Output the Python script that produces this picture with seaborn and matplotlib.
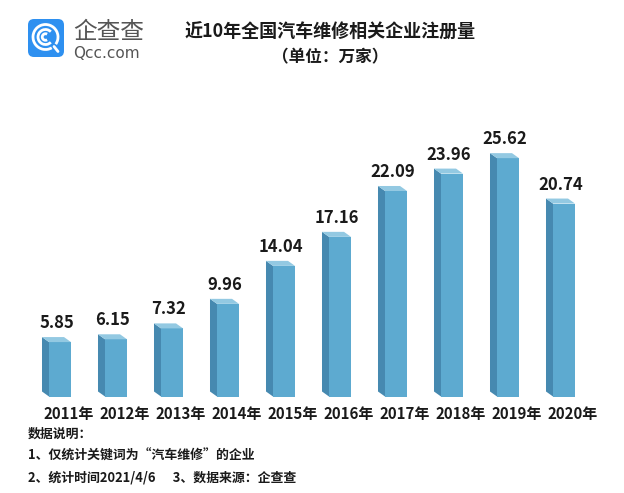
import matplotlib
matplotlib.use('Agg')
import matplotlib.pyplot as plt
import matplotlib.transforms as mtransforms
from matplotlib.patches import Polygon, FancyBboxPatch, Arc
import seaborn as sns
import pandas as pd

# ---- data ----
years = ['2011年', '2012年', '2013年', '2014年', '2015年',
         '2016年', '2017年', '2018年', '2019年', '2020年']
values = [5.85, 6.15, 7.32, 9.96, 14.04, 17.16, 22.09, 23.96, 25.62, 20.74]
title = '近10年全国汽车维修相关企业注册量'
subtitle = '（单位：万家）'
notes = ['数据说明：',
         '1、仅统计关键词为“汽车维修”的企业',
         '2、统计时间2021/4/6      3、数据来源：企查查']
brand_cn = '企查查'
brand_en = 'Qcc.com'

# ---- style ----
sns.set_theme(style='white')
plt.rcParams['font.family'] = ['Noto Sans CJK SC', 'DejaVu Sans']

FRONT = '#5DAAD0'
SIDE = '#4689B0'
TOP = '#93C9E2'

W, H = 624, 493
fig = plt.figure(figsize=(W / 100, H / 100), dpi=100)
fig.patch.set_facecolor('white')


def px(l, t, w, h):
    return [l / W, 1 - (t + h) / H, w / W, h / H]


ax = fig.add_axes(px(32, 96, 560, 300.5))
df = pd.DataFrame({'year': years, 'value': values})
sns.barplot(data=df, x='year', y='value', color=FRONT, width=0.393,
            saturation=1, ax=ax)
ax.set_xlim(-0.5, 9.5)
ax.set_ylim(0, 32.3)

dx = -7 / 56
dy = 5 / 9.3
for p, v in zip(ax.patches, values):
    p.set_edgecolor('none')
    x, w, h = p.get_x(), p.get_width(), p.get_height()
    side = Polygon([(x, 0), (x + dx, dy), (x + dx, h + dy), (x, h)],
                   closed=True, facecolor=SIDE, edgecolor='none', clip_on=False)
    top = Polygon([(x, h), (x + dx, h + dy), (x + w + dx, h + dy), (x + w, h)],
                  closed=True, facecolor=TOP, edgecolor='none', clip_on=False)
    ax.add_patch(side)
    ax.add_patch(top)
    ax.annotate(f'{v:.2f}', xy=(x + w / 2 + dx / 2, h + dy), xytext=(0, 14),
                textcoords='offset pixels', ha='center', va='center',
                fontsize=12, fontweight='bold', color='#1a1a1a',
                annotation_clip=False)

ax.set_xlabel('')
ax.set_ylabel('')
ax.set_yticks([])
ax.set_xticks(range(len(years)))
ax.set_xticklabels(years, fontsize=10.8, fontweight='bold', color='#1a1a1a')
ax.tick_params(axis='x', length=0, pad=7)
shift = mtransforms.ScaledTranslation(9 / 100, 0, fig.dpi_scale_trans)
for lbl in ax.get_xticklabels():
    lbl.set_transform(lbl.get_transform() + shift)
for s in ax.spines.values():
    s.set_visible(False)
ax.set_facecolor('none')

# ---- title ----
fig.text(330 / W, 1 - 32 / H, title, ha='center', va='center',
         fontsize=13, fontweight='bold', color='#1a1a1a')
fig.text(330 / W, 1 - 57 / H, subtitle, ha='center', va='center',
         fontsize=12, fontweight='bold', color='#1a1a1a')

# ---- notes ----
for t, y in zip(notes, [434, 456, 478]):
    fig.text(28 / W, 1 - y / H, t, ha='left', va='center',
             fontsize=9.3, fontweight='bold', color='#1a1a1a')

# ---- logo ----
lax = fig.add_axes(px(28, 19, 36, 38))
lax.set_xlim(0, 36)
lax.set_ylim(0, 38)
lax.axis('off')
lax.add_patch(FancyBboxPatch((0, 0), 36, 38,
                             boxstyle='round,pad=0,rounding_size=6',
                             facecolor='#2E90F0', edgecolor='none'))
cx, cy = 17.5, 20
lax.add_patch(Arc((cx, cy), 25, 25, theta1=-35, theta2=300, color='white', lw=2.0))
lax.plot([cx + 8.5, cx + 12.5], [cy - 9.5, cy - 14.5], color='white', lw=2.0,
         solid_capstyle='round')
lax.add_patch(Arc((cx, cy), 15, 15, theta1=45, theta2=315, color='white', lw=2.0))
lax.add_patch(Arc((cx, cy), 6.5, 6.5, theta1=60, theta2=300, color='white', lw=2.0))

fig.text(73 / W, 1 - 32 / H, brand_cn, ha='left', va='center',
         fontsize=17, color='#555555', fontweight='light')
fig.text(73 / W, 1 - 54 / H, brand_en, ha='left', va='center',
         fontsize=11, color='#555555', family=['DejaVu Sans'])

fig.savefig('out.png', dpi=100, facecolor='white')
